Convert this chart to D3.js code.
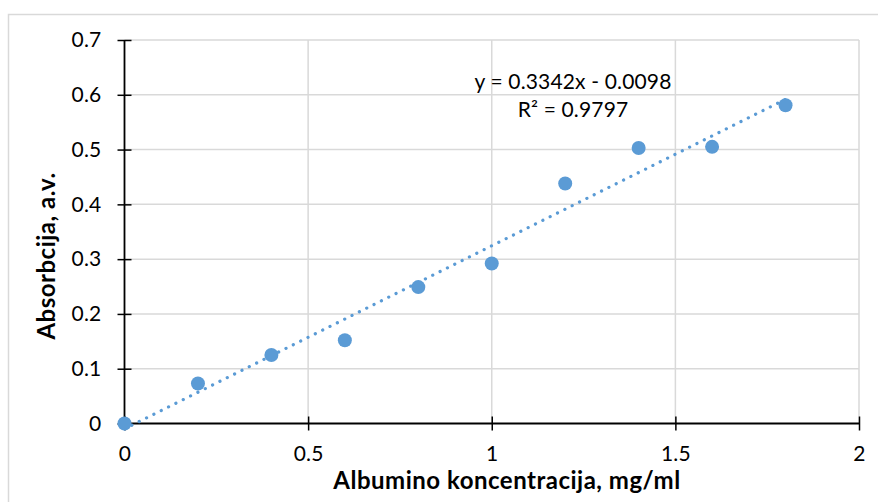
<!DOCTYPE html>
<html>
<head>
<meta charset="utf-8">
<script src="https://cdn.jsdelivr.net/npm/d3@7"></script>
<style>
  html, body { margin: 0; padding: 0; background: #fff; }
  svg { display: block; font-family: Lato, "Open Sans", sans-serif; }
</style>
</head>
<body>
<svg id="chart" width="878" height="502"></svg>
<script>
// Albumin calibration: concentration (mg/ml) vs absorbance
const concentration = [0, 0.2, 0.4, 0.6, 0.8, 1.0, 1.2, 1.4, 1.6, 1.8];
const absorbance    = [0, 0.073, 0.125, 0.152, 0.249, 0.292, 0.438, 0.503, 0.505, 0.581];
const xTicks = [0, 0.5, 1, 1.5, 2];
const yTicks = [0, 0.1, 0.2, 0.3, 0.4, 0.5, 0.6, 0.7];
const trendSlope = 0.3342;
const trendIntercept = -0.0098;
const trendText = ["y = 0.3342x - 0.0098", "R² = 0.9797"];
const xTitle = "Albumino koncentracija, mg/ml";
const yTitle = "Absorbcija, a.v.";

const svg = d3.select("#chart");
const blue = "#5b9bd5";
const grid = "#d9d9d9";

const x = d3.scaleLinear().domain([0, 2]).range([124.5, 859]);
const y = d3.scaleLinear().domain([0, 0.7]).range([423.5, 40]);

// chart frame
svg.append("rect")
  .attr("x", 8.5).attr("y", 14.5)
  .attr("width", 900).attr("height", 520)
  .attr("fill", "#fff").attr("stroke", grid).attr("stroke-width", 1.5);

// gridlines
svg.append("g").selectAll("line").data(yTicks.filter(d => d > 0)).join("line")
  .attr("x1", x(0)).attr("x2", x(2))
  .attr("y1", d => y(d)).attr("y2", d => y(d))
  .attr("stroke", grid).attr("stroke-width", 1.5);
svg.append("g").selectAll("line").data(xTicks.filter(d => d > 0)).join("line")
  .attr("x1", d => x(d)).attr("x2", d => x(d))
  .attr("y1", y(0)).attr("y2", y(0.7))
  .attr("stroke", grid).attr("stroke-width", 1.5);

// axes: crossing tick marks
const yAxis = d3.axisLeft(y).tickValues(yTicks).tickSize(7).tickPadding(16)
  .tickFormat(d => String(+d.toFixed(1)));
const xAxis = d3.axisBottom(x).tickValues(xTicks).tickSize(7).tickPadding(16)
  .tickFormat(d => String(d));

const gy = svg.append("g").attr("transform", `translate(${x(0)},0)`).call(yAxis);
const gx = svg.append("g").attr("transform", `translate(0,${y(0)})`).call(xAxis);

[gx, gy].forEach(g => {
  g.select(".domain").attr("stroke", "#000").attr("stroke-width", 1.8);
  g.selectAll(".tick line").attr("stroke", "#000").attr("stroke-width", 1.5);
  g.selectAll(".tick text").attr("fill", "#000").attr("font-size", 21)
    .attr("letter-spacing", 0.2)
    .attr("font-family", "Lato, sans-serif");
});
gy.select(".domain").attr("d", `M0,${y(0.7)}V${y(0)}`);
gx.select(".domain").attr("d", `M${x(0)},0H${x(2)}`);
gy.selectAll(".tick line").attr("x1", -7).attr("x2", 7);
gx.selectAll(".tick line").attr("y1", -7).attr("y2", 7);

// linear trendline (dotted)
const xMax = d3.max(concentration);
svg.append("line")
  .attr("x1", x(0)).attr("y1", y(trendIntercept))
  .attr("x2", x(xMax)).attr("y2", y(trendSlope * xMax + trendIntercept))
  .attr("stroke", blue).attr("stroke-width", 3.2)
  .attr("stroke-linecap", "round").attr("stroke-dasharray", "0.1 8.1");

// data markers
svg.append("g").selectAll("circle").data(concentration).join("circle")
  .attr("cx", d => x(d))
  .attr("cy", (d, i) => y(absorbance[i]))
  .attr("r", 7)
  .attr("fill", blue);

// trendline equation
svg.append("g").selectAll("text").data(trendText).join("text")
  .attr("x", 573)
  .attr("y", (d, i) => 89 + i * 28)
  .attr("text-anchor", "middle")
  .attr("font-size", 21)
  .attr("letter-spacing", 0.15)
  .attr("fill", "#000")
  .text(d => d);

// axis titles
svg.append("text")
  .attr("x", 507).attr("y", 489)
  .attr("text-anchor", "middle")
  .attr("font-size", 24).attr("font-weight", "bold")
  .attr("letter-spacing", 0.5)
  .attr("fill", "#000")
  .text(xTitle);
svg.append("text")
  .attr("transform", "translate(55,256) rotate(-90)")
  .attr("text-anchor", "middle")
  .attr("font-size", 24).attr("font-weight", "bold")
  .attr("letter-spacing", 0.5)
  .attr("fill", "#000")
  .text(yTitle);
</script>
</body>
</html>
